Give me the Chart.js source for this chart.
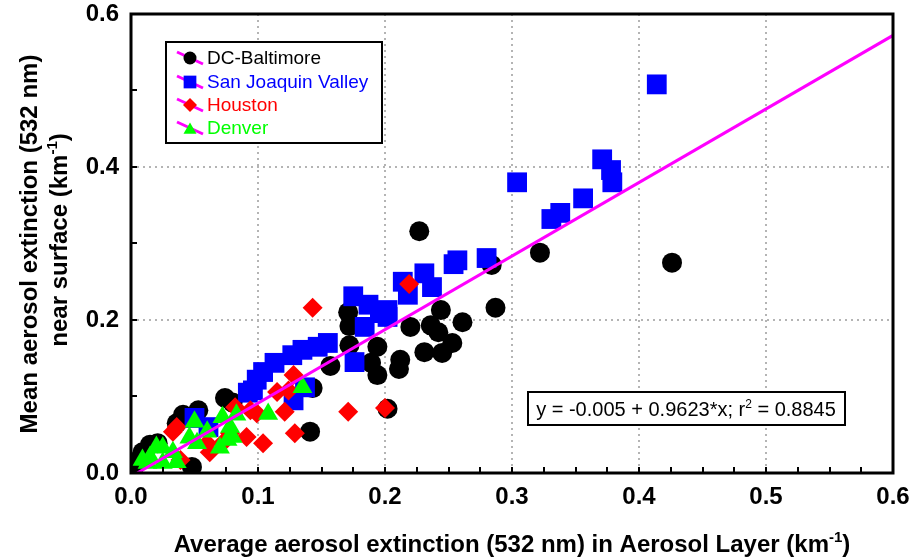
<!DOCTYPE html>
<html>
<head>
<meta charset="utf-8">
<script src="https://cdn.jsdelivr.net/npm/chart.js@4.4.1/dist/chart.umd.min.js"></script>
<style>
  html, body { margin: 0; padding: 0; background: #fff; }
  #wrap { width: 914px; height: 557px; position: relative; }
</style>
</head>
<body>
<div id="wrap"><canvas id="chart"></canvas></div>
<script>
// --- data ---
const seriesNames = ['DC-Baltimore', 'San Joaquin Valley', 'Houston', 'Denver'];

const dcX = [0.426, 0.322, 0.227, 0.287, 0.284, 0.261, 0.244, 0.236, 0.242, 0.220, 0.253, 0.231, 0.245, 0.212, 0.211,
  0.194, 0.189, 0.194, 0.171, 0.172, 0.172, 0.157, 0.143, 0.202, 0.141, 0.074, 0.080, 0.053, 0.041, 0.036,
  0.021, 0.015, 0.009, 0.006, 0.048, 0.002];
const dcY = [0.275, 0.288, 0.316, 0.216, 0.272, 0.197, 0.213, 0.193, 0.184, 0.191, 0.170, 0.158, 0.157, 0.148, 0.136,
  0.165, 0.144, 0.128, 0.210, 0.192, 0.167, 0.140, 0.111, 0.084, 0.054, 0.098, 0.092, 0.082, 0.076, 0.065,
  0.039, 0.037, 0.027, 0.017, 0.008, 0.007];

const sjvX = [0.414, 0.304, 0.371, 0.378, 0.379, 0.356, 0.338, 0.331, 0.280, 0.257, 0.254, 0.231, 0.214, 0.237, 0.218,
  0.202, 0.202, 0.175, 0.187, 0.196, 0.184, 0.155, 0.176, 0.147, 0.135, 0.127, 0.113, 0.104, 0.099, 0.092,
  0.137, 0.128, 0.050, 0.061, 0.096];
const sjvY = [0.508, 0.380, 0.410, 0.396, 0.380, 0.359, 0.340, 0.332, 0.281, 0.278, 0.273, 0.261, 0.250, 0.243, 0.233,
  0.213, 0.204, 0.231, 0.220, 0.209, 0.191, 0.170, 0.145, 0.165, 0.161, 0.154, 0.144, 0.132, 0.122, 0.105,
  0.112, 0.095, 0.072, 0.060, 0.108];

const houX = [0.219, 0.143, 0.171, 0.200, 0.128, 0.115, 0.124, 0.121, 0.129, 0.082, 0.094, 0.036, 0.033, 0.060, 0.062,
  0.072, 0.078, 0.039, 0.104, 0.091, 0.099];
const houY = [0.247, 0.216, 0.080, 0.085, 0.128, 0.106, 0.108, 0.080, 0.052, 0.086, 0.082, 0.060, 0.054, 0.039, 0.027,
  0.039, 0.052, 0.017, 0.039, 0.047, 0.078];

const denX = [0.135, 0.108, 0.083, 0.072, 0.078, 0.076, 0.080, 0.060, 0.050, 0.046, 0.052, 0.033, 0.025, 0.020, 0.015,
  0.009, 0.036, 0.025, 0.013, 0.070];
const denY = [0.112, 0.077, 0.076, 0.073, 0.060, 0.043, 0.047, 0.054, 0.067, 0.046, 0.039, 0.027, 0.033, 0.034, 0.021,
  0.017, 0.014, 0.013, 0.013, 0.033];

// regression line end points (y = -0.005 + 0.9623*x)
const fitX = [0.005, 0.6];
const fitY = [0.0, 0.572];

const xTickLabels = ['0.0', '0.1', '0.2', '0.3', '0.4', '0.5', '0.6'];
const yTickLabels = ['0.0', '0.2', '0.4', '0.6'];

const colors = ['#000000', '#0000ff', '#ff0000', '#00ff00'];
const styles = ['circle', 'rect', 'rectRot', 'triangle'];
const radii = [10, 14, 10, 11.5];
const lineColor = '#ff00ff';

const pts = (xs, ys) => xs.map((x, i) => ({ x: x, y: ys[i] }));
const allX = [dcX, sjvX, houX, denX];
const allY = [dcY, sjvY, houY, denY];

// draw text with superscript parts, centred on x
function drawRich(ctx, parts, x, y, size, family, weight, color) {
  const base = weight + ' ' + size + 'px ' + family;
  const small = weight + ' ' + Math.round(size * 0.62) + 'px ' + family;
  let w = 0;
  parts.forEach(p => { ctx.font = p.sup ? small : base; w += ctx.measureText(p.t).width; });
  let cx = x - w / 2;
  ctx.fillStyle = color;
  ctx.textBaseline = 'alphabetic';
  ctx.textAlign = 'left';
  parts.forEach(p => {
    ctx.font = p.sup ? small : base;
    ctx.fillText(p.t, cx, p.sup ? y - size * 0.42 : y);
    cx += ctx.measureText(p.t).width;
  });
}

const decor = {
  id: 'decor',
  afterDatasetsDraw(chart) {
    const { ctx, chartArea: a, scales } = chart;
    ctx.save();
    // inward minor ticks
    ctx.strokeStyle = '#000';
    ctx.lineWidth = 2;
    for (let v = 0; v <= 0.6001; v += 0.025) {
      const px = Math.round(scales.x.getPixelForValue(v));
      ctx.beginPath(); ctx.moveTo(px, a.bottom); ctx.lineTo(px, a.bottom - 6); ctx.stroke();
    }
    for (let v = 0; v <= 0.6001; v += 0.1) {
      const py = Math.round(scales.y.getPixelForValue(v));
      ctx.beginPath(); ctx.moveTo(a.left, py); ctx.lineTo(a.left + 6, py); ctx.stroke();
    }
    // frame
    ctx.lineWidth = 3;
    ctx.strokeRect(a.left, a.top, a.right - a.left, a.bottom - a.top);

    // legend
    ctx.fillStyle = '#fff';
    ctx.fillRect(166, 42, 216, 101);
    ctx.lineWidth = 2;
    ctx.strokeStyle = '#000';
    ctx.strokeRect(166, 42, 216, 101);
    const rowY = [58, 82, 105, 128];
    const legR = [6.5, 9, 7, 7.5];
    seriesNames.forEach((name, i) => {
      const y = rowY[i];
      ctx.strokeStyle = lineColor;
      ctx.lineWidth = 3;
      ctx.beginPath(); ctx.moveTo(177, y - 6); ctx.lineTo(203, y + 6); ctx.stroke();
      ctx.fillStyle = colors[i];
      Chart.helpers.drawPoint(ctx, { pointStyle: styles[i], radius: legR[i], borderWidth: 0 }, 190, y + (i === 3 ? 2 : 0));
      ctx.fillStyle = colors[i];
      ctx.font = '19px "Liberation Sans", Arial, sans-serif';
      ctx.textAlign = 'left';
      ctx.textBaseline = 'middle';
      ctx.fillText(name, 207, y + 1);
    });

    // equation box
    ctx.fillStyle = '#fff';
    ctx.fillRect(528, 392, 317, 33);
    ctx.strokeStyle = '#000';
    ctx.lineWidth = 2;
    ctx.strokeRect(528, 392, 317, 33);
    drawRich(ctx, [{ t: 'y = -0.005 + 0.9623*x; r' }, { t: '2', sup: true }, { t: ' = 0.8845' }],
      686, 416, 20, '"Liberation Sans", Arial, sans-serif', 'normal', '#000');

    // axis titles
    drawRich(ctx, [{ t: 'Average aerosol extinction (532 nm) in Aerosol Layer (km' }, { t: '-1', sup: true }, { t: ')' }],
      512, 552, 24, '"Liberation Sans Narrow", "Arial Narrow", sans-serif', 'bold', '#000');
    ctx.save();
    ctx.translate(37, 244);
    ctx.rotate(-Math.PI / 2);
    drawRich(ctx, [{ t: 'Mean aerosol extinction (532 nm)' }], 0, 0, 24, '"Liberation Sans", Arial, sans-serif', 'bold', '#000');
    ctx.restore();
    ctx.save();
    ctx.translate(67, 240);
    ctx.rotate(-Math.PI / 2);
    drawRich(ctx, [{ t: 'near surface (km' }, { t: '-1', sup: true }, { t: ')' }], 0, 0, 24, '"Liberation Sans", Arial, sans-serif', 'bold', '#000');
    ctx.restore();
    ctx.restore();
  }
};

const datasets = seriesNames.map((name, i) => ({
  label: name,
  data: pts(allX[i], allY[i]),
  pointStyle: styles[i],
  pointRadius: radii[i],
  pointHoverRadius: radii[i],
  backgroundColor: colors[i],
  borderColor: colors[i],
  pointBorderWidth: 0,
  showLine: false,
  order: 4 - i
}));
datasets.push({
  type: 'line',
  label: 'fit',
  data: pts(fitX, fitY),
  borderColor: lineColor,
  borderWidth: 3,
  pointRadius: 0,
  fill: false,
  order: 0
});

new Chart(document.getElementById('chart'), {
  type: 'scatter',
  data: { datasets: datasets },
  options: {
    responsive: true,
    maintainAspectRatio: false,
    animation: false,
    devicePixelRatio: 1,
    layout: { padding: { left: 0, top: 14, right: 21, bottom: 0 } },
    plugins: { legend: { display: false }, tooltip: { enabled: false } },
    scales: {
      x: {
        type: 'linear', min: 0, max: 0.6,
        afterFit: s => { s.height = 84; s.paddingLeft = 0; s.paddingRight = 0; },
        ticks: {
          stepSize: 0.1, padding: 10, color: '#000',
          font: { family: '"Liberation Sans Narrow", "Arial Narrow", sans-serif', size: 24, weight: 'bold' },
          callback: (v, i) => xTickLabels[i]
        },
        grid: { color: '#b4b4b4', lineWidth: 2, drawTicks: false },
        border: { display: false, dash: [2, 4] }
      },
      y: {
        type: 'linear', min: 0, max: 0.6,
        afterFit: s => { s.width = 131; s.paddingTop = 0; s.paddingBottom = 0; },
        ticks: {
          stepSize: 0.2, padding: 12, color: '#000',
          font: { family: '"Liberation Sans", Arial, sans-serif', size: 24, weight: 'bold' },
          callback: (v, i) => yTickLabels[i]
        },
        grid: { color: '#b4b4b4', lineWidth: 2, drawTicks: false },
        border: { display: false, dash: [2, 4] }
      }
    }
  },
  plugins: [decor]
});
</script>
</body>
</html>
